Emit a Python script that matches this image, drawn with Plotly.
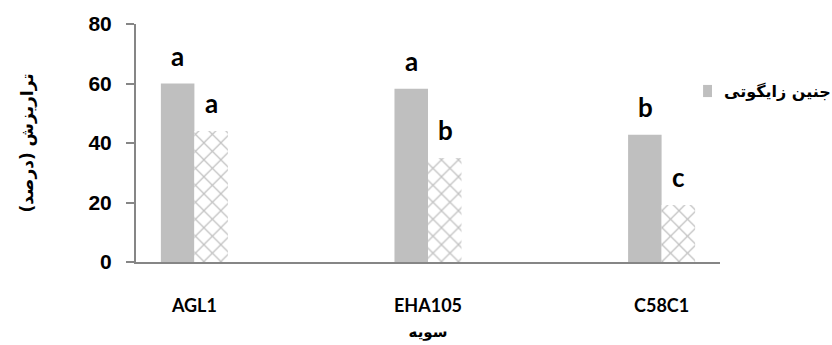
import plotly.graph_objects as go

# Strains and transformation percentages
strains = ["AGL1", "EHA105", "C58C1"]
zygotic = [60, 58.2, 42.8]
second_series = [44, 35, 19.2]
zygotic_letters = ["a", "a", "b"]
second_letters = ["a", "b", "c"]
y_ticks = [0, 20, 40, 60, 80]
legend_label = "جنین زایگوتی"

axis_gray = "#868686"
bar_gray = "#BFBFBF"
arabic_font = "DejaVu Sans"
letter_font = dict(family="Lato", size=26, color="black", weight="bold")

fig = go.Figure()
fig.add_trace(go.Bar(
    x=strains, y=zygotic, name=legend_label, showlegend=False,
    marker=dict(color=bar_gray, line=dict(width=0)),
))
fig.add_trace(go.Bar(
    x=strains, y=second_series, showlegend=False,
    marker=dict(color="white", line=dict(width=0),
                pattern=dict(shape="x", fgcolor="#858585", bgcolor="white",
                             size=12, solidity=0.2)),
))

# Significance letters above each bar
for i, s in enumerate(strains):
    fig.add_annotation(x=s, y=zygotic[i], text=zygotic_letters[i], xshift=-16.5,
                       yanchor="bottom", yshift=10, showarrow=False, font=letter_font)
    fig.add_annotation(x=s, y=second_series[i], text=second_letters[i], xshift=17,
                       yanchor="bottom", yshift=10, showarrow=False, font=letter_font)

# Key for the grey series
fig.add_shape(type="rect", xref="paper", yref="paper",
              x0=0.971, x1=0.9863, y0=0.693, y1=0.744,
              fillcolor=bar_gray, line=dict(width=0))
fig.add_annotation(xref="paper", yref="paper", x=1.003, y=0.715,
                   xanchor="left", yanchor="middle", showarrow=False,
                   text=legend_label,
                   font=dict(family=arabic_font, size=16, color="black", weight="bold"))

fig.update_layout(
    width=832, height=345,
    margin=dict(l=136, r=112, t=24, b=83),
    plot_bgcolor="white", paper_bgcolor="white",
    barmode="group", bargap=0.713, bargroupgap=0,
    xaxis=dict(
        range=[-0.25, 2.25], showline=True, linecolor=axis_gray, linewidth=2,
        ticks="", showgrid=False, automargin=False,
        tickfont=dict(family="Lato", size=18, color="black", weight="bold"),
        ticklabelstandoff=26,
        title=dict(text="سویه", standoff=12,
                   font=dict(family=arabic_font, size=15, color="black", weight="bold")),
    ),
    yaxis=dict(
        range=[0, 80], tickvals=y_ticks, showline=True, linecolor=axis_gray, linewidth=2,
        ticks="outside", ticklen=8, tickcolor=axis_gray, tickwidth=2, showgrid=False,
        zeroline=False, automargin=False,
        tickfont=dict(family="Liberation Sans", size=21, color="black", weight="bold"),
        ticklabelstandoff=10,
        title=dict(text="تراریزش (درصد)", standoff=50,
                   font=dict(family=arabic_font, size=17, color="black", weight="bold")),
    ),
)

fig.write_html("out.html")
